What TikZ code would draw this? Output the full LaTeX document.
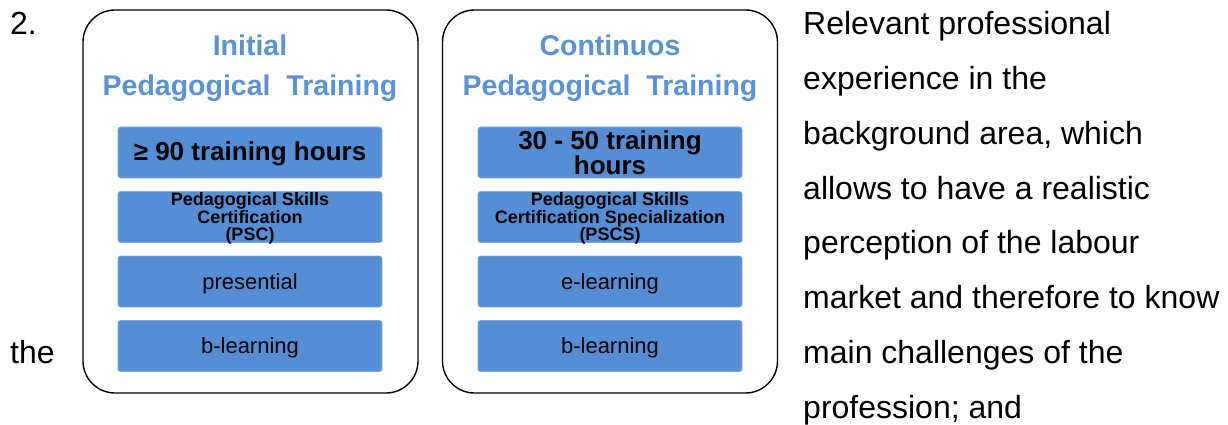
\documentclass[tikz,border=0pt]{standalone}
\usepackage{fontspec}
\setmainfont{Liberation Sans}
\definecolor{boxblue}{HTML}{558ED5}
\definecolor{titleblue}{HTML}{5A91D7}
\begin{document}
\begin{tikzpicture}[x=1pt,y=-1pt,
  panel/.style={draw=black, line width=1.4pt, rounded corners=32pt,
    minimum width=335pt, minimum height=383pt, inner sep=0pt},
  item/.style={fill=boxblue, draw=boxblue!75!white, line width=0.6pt,
    rounded corners=2.5pt, minimum width=264pt, minimum height=51pt,
    inner sep=0pt},
  itemtext/.style={inner sep=0pt, align=center, text=black},
  bigtext/.style={itemtext, font=\bfseries\fontsize{26}{24}\selectfont},
  smalltext/.style={itemtext, font=\bfseries\fontsize{18}{17.3}\selectfont},
  plaintext/.style={itemtext, font=\fontsize{22}{22}\selectfont},
  title/.style={anchor=base, text=titleblue, inner sep=0pt,
    font=\bfseries\fontsize{28.5}{28.5}\selectfont},
  body/.style={anchor=base west, inner sep=0pt,
    font=\fontsize{32}{32}\selectfont}]
\useasboundingbox (0,0) rectangle (1228,425);

% outer panels
\node[panel] (ipanel) at (250.5,201.5) {};
\node[panel] (cpanel) at (610,201.5) {};

% panel titles
\node[title] (ititle1) at (250,55.5) {Initial};
\node[title] (ititle2) at (250,95.5) {Pedagogical\hspace{8pt} Training};
\node[title] (ctitle1) at (610,55.5) {Continuos};
\node[title] (ctitle2) at (610,95.5) {Pedagogical\hspace{8pt} Training};

% item boxes
\node[item] (ihours) at (250,152.5) {};
\node[item] (ipsc)   at (250,217)   {};
\node[item] (ipres)  at (250,281.5) {};
\node[item] (iblear) at (250,346)   {};
\node[item] (chours) at (610,152.5) {};
\node[item] (cpscs)  at (610,217)   {};
\node[item] (celear) at (610,281.5) {};
\node[item] (cblear) at (610,346)   {};

% item labels
\node[bigtext]   (ihours-t) at ([yshift=-1.5pt]ihours.center) {≥ 90 training hours};
\node[smalltext] (ipsc-t)   at ([yshift=-1.5pt]ipsc.center)   {Pedagogical Skills\\Certification\\(PSC)};
\node[plaintext] (ipres-t)  at ([yshift=-2pt]ipres.center)    {presential};
\node[plaintext] (iblear-t) at ([yshift=-2pt]iblear.center)   {b-learning};
\node[bigtext]   (chours-t) at (chours.center) {30 - 50 training\\hours};
\node[smalltext] (cpscs-t)  at ([yshift=-1.5pt]cpscs.center)  {Pedagogical Skills\\Certification Specialization\\(PSCS)};
\node[plaintext] (celear-t) at ([yshift=-2pt]celear.center)   {e-learning};
\node[plaintext] (cblear-t) at ([yshift=-2pt]cblear.center)   {b-learning};

% surrounding paragraph
\node[body] (num) at (10,35) {2.};
\node[body] (the) at (10,363.3) {the};
\node[body] (l1) at (803,35)    {Relevant professional};
\node[body] (l2) at (803,89.7)  {experience in the};
\node[body] (l3) at (803,144.4) {background area, which};
\node[body] (l4) at (803,199.1) {allows to have a realistic};
\node[body] (l5) at (803,253.9) {perception of the labour};
\node[body] (l6) at (803,308.6) {market and therefore to know};
\node[body] (l7) at (803,363.3) {main challenges of the};
\node[body] (l8) at (803,418)   {profession; and};
\end{tikzpicture}
\end{document}
